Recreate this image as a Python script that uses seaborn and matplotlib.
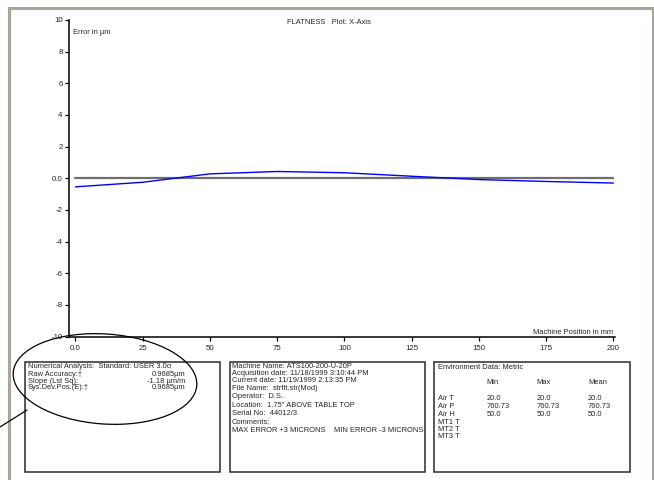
import seaborn as sns
import pandas as pd, numpy as np
import matplotlib.pyplot as plt
from matplotlib.patches import Rectangle, Ellipse

# --- data ---
position_mm = [0, 25, 50, 75, 100, 125, 150, 175, 200]
error_um = [-0.54, -0.25, 0.28, 0.43, 0.35, 0.13, -0.08, -0.20, -0.30]

yticks = [10, 8, 6, 4, 2, 0, -2, -4, -6, -8, -10]
ytick_labels = ["10", "8", "6", "4", "2", "0.0", "-2", "-4", "-6", "-8", "-10"]
xticks = [0, 25, 50, 75, 100, 125, 150, 175, 200]
xtick_labels = ["0.0", "25", "50", "75", "100", "125", "150", "175", "200"]

analysis_rows = ["Raw Accuracy:\u2020", "Slope (Lst Sq):", "Sys.Dev.Pos.(E):\u2020"]
analysis_vals = ["0.9685\u00b5m", "-1.18 \u00b5m/m", "0.9685\u00b5m"]

machine_info = ["Machine Name: ATS100-200-U-20P",
                "Acquisition date: 11/18/1999 3:10:44 PM",
                "Current date: 11/19/1999 2:13:35 PM",
                "File Name:  strflt.str(Mod)",
                "Operator:  D.S.",
                "Location:  1.75\" ABOVE TABLE TOP",
                "Serial No:  44012/3",
                "Comments:",
                "MAX ERROR +3 MICRONS"]
comment_right = "MIN ERROR -3 MICRONS"

env_cols = ["Min", "Max", "Mean"]
env_rows = ["Air T", "Air P", "Air H", "MT1 T", "MT2 T", "MT3 T"]
env_min = ["20.0", "760.73", "50.0", "", "", ""]
env_max = ["20.0", "760.73", "50.0", "", "", ""]
env_mean = ["20.0", "760.73", "50.0", "", "", ""]

sns.set_style("white")
plt.rcParams['font.family'] = ['Liberation Sans', 'DejaVu Sans']
FS = 5.4

W, H = 654, 480
fig = plt.figure(figsize=(W / 100, H / 100), dpi=100)
fig.patch.set_facecolor("white")

# main plot area (pixel box -> figure fraction)
x0, x1, y0, y1 = 69, 615, 20, 336.6
ax = fig.add_axes([x0 / W, 1 - y1 / H, (x1 - x0) / W, (y1 - y0) / H])
df = pd.DataFrame({"pos": position_mm, "err": error_um})
ax.plot([position_mm[0], position_mm[-1]], [0, 0], color="#6e6e6e", lw=1.6, zorder=1)
sns.lineplot(data=df, x="pos", y="err", color="#0000ff", lw=1.0, ax=ax, zorder=2)
ax.set_xlim(-2.4, 200.6)
ax.set_ylim(-10, 10)
ax.set_yticks(yticks)
ax.set_yticklabels(ytick_labels)
ax.set_xticks(xticks)
ax.set_xticklabels(xtick_labels)
ax.set_xlabel("")
ax.set_ylabel("")
for s in ["top", "right"]:
    ax.spines[s].set_visible(False)
for s in ["left", "bottom"]:
    ax.spines[s].set_color("black")
    ax.spines[s].set_linewidth(1.1)
ax.tick_params(axis="both", direction="out", length=3, width=0.9, color="black",
               labelsize=FS + 0.3, pad=1.5, left=True, bottom=True)
ax.tick_params(axis="x", pad=3)
ax.set_facecolor("none")

# overlay in pixel coords for annotations, boxes and frame
ov = fig.add_axes([0, 0, 1, 1], zorder=5)
ov.set_xlim(0, W)
ov.set_ylim(H, 0)
ov.axis("off")
ov.patch.set_alpha(0)


def txt(x, y, s, **kw):
    # y is the visual centre of the caps; convert to a baseline
    ov.text(x, y + 2.4, s, fontsize=FS, va="baseline", **kw)


# page frame
ov.plot([8.5, 8.5, 652.5, 652.5], [H + 5, 7.5, 7.5, H + 5], color="#aaa49b", lw=2.2,
        solid_joinstyle="miter", clip_on=False)

txt(329, 22, "FLATNESS   Plot: X-Axis", ha="center")
txt(73, 32, "Error in \u00b5m")
txt(613, 331.5, "Machine Position in mm", ha="right")

# info boxes
for bx0, bx1 in [(25, 220), (230, 425), (434, 630)]:
    ov.add_patch(Rectangle((bx0, 361.5), bx1 - bx0, 110, fill=False, ec="#2a2a2a", lw=1.1))

txt(27.5, 366, "Numerical Analysis:  Standard: USER 3.0\u03c3")
for yy, lab, val in zip([373.5, 380.5, 387], analysis_rows, analysis_vals):
    txt(27.5, yy, lab)
    txt(185, yy, val, ha="right")

machine_y = [366, 372.8, 379.6, 387.5, 396, 404.5, 413, 421.5, 429.5]
for yy, line in zip(machine_y, machine_info):
    txt(231.5, yy, line)
txt(334.5, machine_y[-1], comment_right)

txt(438, 367, "Environment Data: Metric")
col_x = [486.5, 536.5, 588]
for cx, c in zip(col_x, env_cols):
    txt(cx, 382, c)
row_y = [398, 405.5, 413.5, 421.5, 429, 436]
for yy, r, a, b, c in zip(row_y, env_rows, env_min, env_max, env_mean):
    txt(438, yy, r)
    for cx, v in zip(col_x, [a, b, c]):
        txt(cx, yy, v)

# hand-drawn highlight ellipse and pointer
ov.add_patch(Ellipse((105, 379), 184, 90, angle=4, fill=False, ec="black", lw=0.9))
ov.plot([27, 0], [410, 427], color="black", lw=0.9, clip_on=False)

fig.savefig("out.png", dpi=100)
